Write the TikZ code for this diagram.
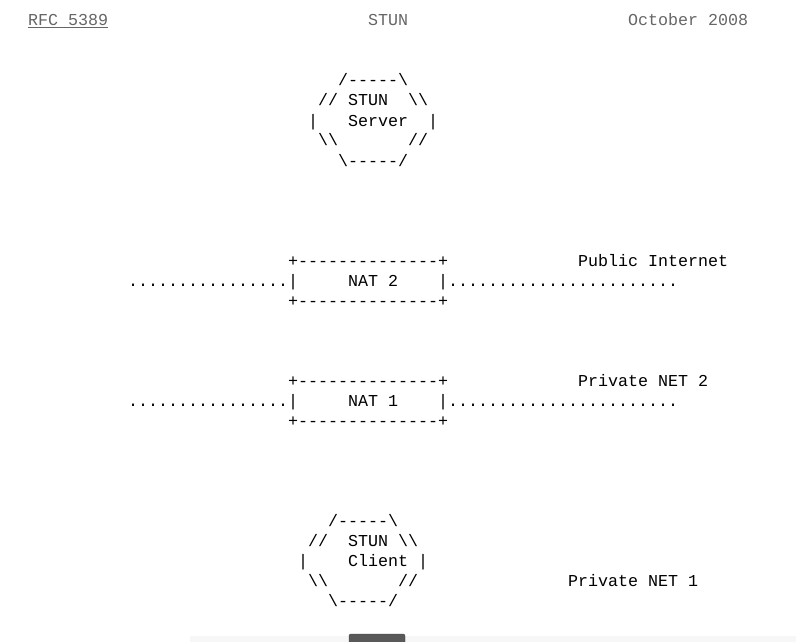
\documentclass[tikz,border=0pt]{standalone}
\usepackage{fontspec}
\usepackage{tikz}
\newfontfamily\asciifont{Liberation Mono}
\definecolor{hdrgray}{HTML}{666666}

\begin{document}
\begin{tikzpicture}[x=1pt,y=-1pt,
    asciitxt/.style={font={\asciifont\fontsize{16.67}{20}\selectfont},anchor=base west,inner sep=0pt,outer sep=0pt},
    hdrtxt/.style={asciitxt,text=hdrgray}]
    \useasboundingbox[fill=white] (0,0) rectangle (796,642);

    \begin{scope}[x=10pt,y=-20pt,shift={(28pt,-26pt)}]
    % page header
    \node[hdrtxt] (rfc) at (0,0) {RFC 5389};
    \node[hdrtxt] (title) at (34,0) {STUN};
    \node[hdrtxt] (date) at (60,0) {October 2008};
    \draw [hdrgray,line width=0.8pt] ([yshift=-1.6pt]rfc.base west)--([yshift=-1.6pt]rfc.base east);

    % STUN server
    \node[asciitxt] (srvA) at (31,3) {/-----\textbackslash};
    \node[asciitxt] (srvB) at (29,4) {// STUN~~\textbackslash\textbackslash};
    \node[asciitxt] (srvC) at (28,5) {|~~~Server~~|};
    \node[asciitxt] (srvD) at (29,6) {\textbackslash\textbackslash~~~~~~~//};
    \node[asciitxt] (srvE) at (31,7) {\textbackslash-----/};

    % NAT 2
    \node[asciitxt] (natTwoA) at (26,12) {+--------------+};
    \node[asciitxt] (pubnet) at (55,12) {Public Internet};
    \node[asciitxt] (natTwoB) at (10,13) {................|~~~~~NAT 2~~~~|.......................};
    \node[asciitxt] (natTwoC) at (26,14) {+--------------+};

    % NAT 1
    \node[asciitxt] (natOneA) at (26,18) {+--------------+};
    \node[asciitxt] (privtwo) at (55,18) {Private NET 2};
    \node[asciitxt] (natOneB) at (10,19) {................|~~~~~NAT 1~~~~|.......................};
    \node[asciitxt] (natOneC) at (26,20) {+--------------+};

    % STUN client
    \node[asciitxt] (cliA) at (30,25) {/-----\textbackslash};
    \node[asciitxt] (cliB) at (28,26) {//~~STUN \textbackslash\textbackslash};
    \node[asciitxt] (cliC) at (27,27) {|~~~~Client |};
    \node[asciitxt] (cliD) at (28,28) {\textbackslash\textbackslash~~~~~~~//};
    \node[asciitxt] (privone) at (54,28) {Private NET 1};
    \node[asciitxt] (cliE) at (30,29) {\textbackslash-----/};
    \end{scope}

    % viewer strip at the bottom edge
    \fill [gray!6] (190,636) rectangle (796,645);
    \draw [fill=gray!70!black,draw=black!75,rounded corners=2pt] (349,634) rectangle (405,648);
\end{tikzpicture}
\end{document}
